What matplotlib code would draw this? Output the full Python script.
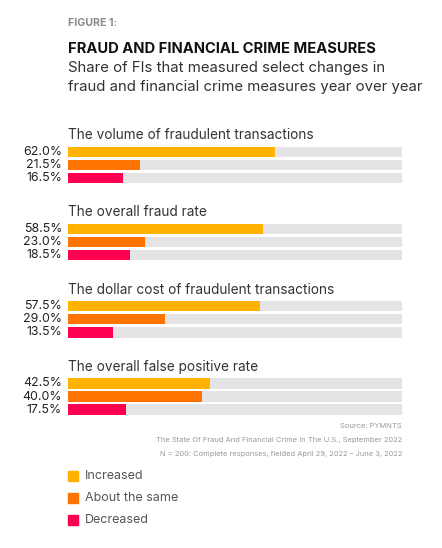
import matplotlib
matplotlib.use("Agg")
import matplotlib.pyplot as plt

plt.rcParams['font.family'] = ['Inter', 'DejaVu Sans']

groups = ["The volume of fraudulent transactions",
          "The overall fraud rate",
          "The dollar cost of fraudulent transactions",
          "The overall false positive rate"]
series = ["Increased", "About the same", "Decreased"]
increased = [62.0, 58.5, 57.5, 42.5]
same = [21.5, 23.0, 29.0, 40.0]
decreased = [16.5, 18.5, 13.5, 17.5]
colors = ["#FFB300", "#FF7300", "#FF0050"]
track = "#E4E4E6"

W, H = 442, 548
fig = plt.figure(figsize=(W/100, H/100), dpi=100)

def fx(x): return x / W
def fy(y): return 1 - y / H

# axes in pixel-like data coordinates (y downward)
top, bot = 120, 420
ax = fig.add_axes([fx(68), fy(bot), fx(402) - fx(68), (bot - top) / H])
ax.set_xlim(0, 100)
ax.set_ylim(bot, top)
ax.axis('off')

first = 151.8
gstep = 77.2
bstep = 13.1
bh = 10.3
vals = [increased, same, decreased]
for g, name in enumerate(groups):
    base = first + g * gstep
    ax.text(0, base - 16.5, name, fontsize=9.8, color="#333333", va='center', ha='left')
    for k in range(3):
        y = base + k * bstep
        ax.barh(y, 100, height=bh, color=track, left=0)
        ax.barh(y, vals[k][g], height=bh, color=colors[k], left=0)
        fig.text(fx(62), fy(y), f"{vals[k][g]:.1f}%", fontsize=8.9, color="#222222",
                 ha='right', va='center')

fig.text(fx(68), fy(23), "FIGURE 1:", fontsize=7.6, fontweight='bold', color="#8a8a8a", va='center')
fig.text(fx(68), fy(49), "FRAUD AND FINANCIAL CRIME MEASURES", fontsize=10.6, fontweight='bold',
         color="#111111", va='center')
fig.text(fx(68), fy(68), "Share of FIs that measured select changes in", fontsize=10.75,
         color="#333333", va='center')
fig.text(fx(68), fy(87), "fraud and financial crime measures year over year", fontsize=10.75,
         color="#333333", va='center')

src = ["Source: PYMNTS",
       "The State Of Fraud And Financial Crime In The U.S., September 2022",
       "N = 200: Complete responses, fielded April 29, 2022 \u2013 June 3, 2022"]
for i, s in enumerate(src):
    fig.text(fx(402), fy(426 + i * 14), s, fontsize=5.4, color="#999999", ha='right', va='center')

for k, s in enumerate(series):
    y = 476 + k * 22
    fig.patches.append(plt.Rectangle((fx(68), fy(y + 5)), 10 / W, 10 / H, color=colors[k],
                                     transform=fig.transFigure, figure=fig))
    fig.text(fx(85), fy(y), s, fontsize=9, color="#555555", va='center')

fig.savefig("out.png", dpi=100)
